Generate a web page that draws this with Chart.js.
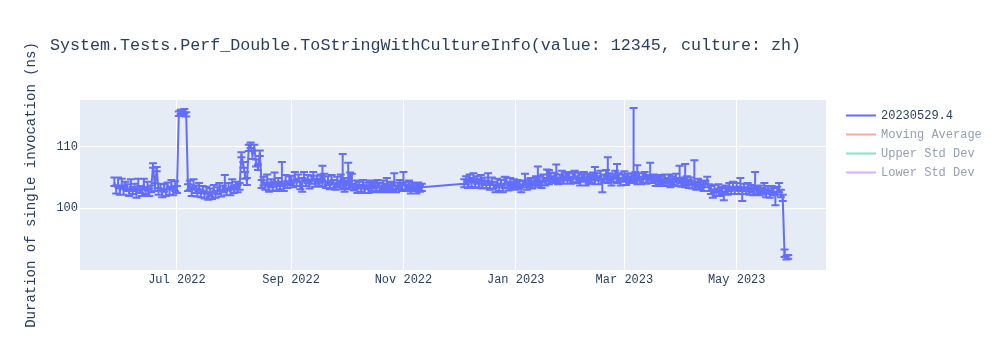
<!DOCTYPE html>
<html>
<head>
<meta charset="utf-8">
<title>Perf_Double.ToStringWithCultureInfo</title>
<script src="https://cdn.jsdelivr.net/npm/chart.js@4.4.1/dist/chart.umd.min.js"></script>
<style>
  html, body { margin: 0; padding: 0; background: #fff; }
  #chartBox { width: 1000px; height: 350px; }
</style>
</head>
<body>
<div id="chartBox"><canvas id="perfChart" width="1000" height="350"></canvas></div>
<script>
// Runs (ns), one run per day starting at each segment's first date
const runStartA = "2022-05-28";
const durationsA = [
  104.2, 103.1, 104.0, 102.8, 103.9, 103.0, 103.6,
  103.4, 102.5, 103.8, 102.9, 103.3, 102.4, 103.7, 103.0, 102.6, 103.9, 102.8, 103.5, 102.7,
  103.1, 107.0, 103.4, 106.4,
  102.8, 103.4, 102.5, 103.2, 102.6, 103.6, 102.9, 103.8, 102.7, 103.3,
  103.0, 115.3, 115.7, 115.4, 115.8, 115.2, 103.3,
  103.6, 102.7, 103.9, 103.1, 102.6, 103.4, 102.4, 103.0,
  102.2, 102.9, 101.9, 102.6, 102.1, 103.1, 102.3,
  102.8, 103.4, 102.5, 103.1, 103.5, 102.7, 103.4, 102.8, 103.9, 103.1, 103.6, 103.2,
  103.5, 108.7, 107.0, 105.3, 104.4, 109.8, 110.2, 108.6, 109.9, 107.3, 106.6, 108.9, 103.9,
  104.3, 103.5, 104.6, 103.2, 104.0, 103.6, 104.8, 103.4, 104.1, 103.7, 104.2, 103.3, 104.5, 103.8, 104.4,
  104.6, 103.9, 105.1, 104.2, 104.8, 103.8, 104.3, 105.0, 104.1, 104.7, 103.9, 104.5, 105.2, 104.0, 104.6,
  104.2, 104.8, 104.1, 104.9, 103.8, 104.4, 103.6, 104.7, 104.0, 103.5, 104.3, 103.9, 104.6, 103.7, 104.2,
  103.9, 104.4, 103.6, 104.1, 103.4, 103.8, 103.2, 103.7, 103.3, 103.9, 103.1, 103.6, 103.2, 103.8, 103.4,
  103.7, 103.2, 103.9, 103.5, 103.1, 103.8, 103.4, 104.0, 103.3, 103.7, 103.5, 104.1, 103.2, 103.6, 103.9,
  103.4, 104.2, 103.6, 103.3, 103.8, 103.1, 103.6, 103.4, 102.9, 103.5, 103.2, 103.4
];
const errUpA = [
  0.8, 0.6, 1.0, 0.5, 0.9, 0.6, 0.7,
  0.5, 0.6, 0.9, 0.5, 0.7, 0.5, 1.1, 0.6, 0.5, 0.9, 0.6, 0.8, 0.5,
  0.6, 0.3, 0.7, 0.3,
  0.5, 0.6, 0.5, 0.7, 0.5, 0.6, 0.6, 0.8, 0.5, 1.1,
  0.6, 0.4, 0.3, 0.5, 0.3, 0.4, 0.6,
  0.9, 0.6, 0.8, 0.6, 0.5, 0.7, 0.5, 0.6,
  0.5, 0.6, 0.5, 0.6, 0.5, 0.7, 0.5,
  0.6, 0.7, 0.5, 0.6, 1.9, 0.5, 0.7, 0.5, 0.8, 0.6, 0.7, 0.6,
  0.6, 0.4, 0.5, 0.6, 0.5, 0.5, 0.5, 0.7, 0.4, 0.6, 0.5, 0.5, 0.7,
  0.8, 0.6, 0.9, 0.5, 0.7, 0.6, 1.0, 0.5, 0.8, 0.6, 3.3, 0.6, 0.9, 0.6, 0.8,
  0.7, 0.6, 0.8, 0.6, 0.7, 0.5, 0.6, 0.9, 0.6, 0.7, 0.5, 0.8, 0.7, 0.6, 0.7,
  0.6, 0.7, 2.8, 0.7, 0.6, 0.8, 0.5, 0.7, 0.6, 0.5, 0.8, 0.6, 0.9, 5.1, 0.7,
  0.6, 3.0, 2.2, 1.5, 0.6, 0.7, 0.5, 0.6, 0.5, 0.7, 0.5, 0.6, 0.5, 0.7, 0.6,
  0.6, 0.5, 0.7, 0.6, 0.5, 0.7, 0.6, 0.9, 0.5, 0.6, 0.7, 1.6, 0.5, 0.6, 0.7,
  0.5, 1.7, 0.6, 0.5, 0.7, 0.5, 0.6, 0.5, 0.6, 0.7, 0.5, 0.6
];
const errDownA = [
  0.6, 0.7, 0.5, 0.6, 0.6, 0.8, 0.5,
  0.6, 0.5, 0.7, 0.6, 0.5, 0.7, 0.6, 0.5, 0.6, 0.7, 0.5, 0.6, 0.7,
  0.5, 0.4, 0.6, 0.4,
  0.6, 0.5, 0.7, 0.5, 0.6, 0.5, 0.7, 0.5, 0.6, 0.5,
  0.5, 0.3, 0.4, 0.3, 0.4, 0.3, 0.5,
  0.6, 0.7, 0.5, 0.6, 0.7, 0.5, 0.6, 0.5,
  0.6, 0.5, 0.5, 0.7, 0.6, 0.5, 0.6,
  0.5, 0.6, 0.6, 0.5, 0.6, 0.6, 0.5, 0.7, 0.5, 0.6, 0.5, 0.6,
  0.5, 0.4, 0.4, 0.5, 0.6, 0.5, 0.4, 0.6, 0.5, 0.5, 0.4, 0.4, 0.6,
  0.6, 0.5, 0.7, 0.5, 0.6, 0.7, 0.5, 0.6, 0.5, 0.6, 0.6, 0.5, 0.7, 0.5, 0.6,
  0.6, 0.5, 0.7, 0.6, 0.5, 0.7, 1.6, 0.6, 0.5, 0.6, 0.7, 0.5, 0.6, 0.5, 0.6,
  0.6, 0.5, 0.6, 0.7, 0.5, 0.6, 0.5, 0.6, 0.7, 0.5, 0.6, 0.5, 0.6, 0.6, 1.5,
  0.7, 0.6, 0.5, 0.6, 0.5, 0.6, 0.7, 0.5, 0.6, 0.5, 0.6, 0.5, 0.7, 0.5, 0.6,
  0.5, 0.6, 0.5, 0.7, 0.5, 0.6, 0.5, 0.6, 0.7, 0.5, 0.6, 0.5, 0.6, 0.5, 0.7,
  0.6, 0.5, 0.6, 0.5, 0.6, 0.7, 0.5, 0.6, 0.5, 0.6, 0.5, 0.6
];

const runStartB = "2022-12-04";
const durationsB = [
  104.0, 104.6, 103.8, 104.9, 104.2, 104.7, 103.9, 104.5, 104.1, 104.8, 103.7, 104.4, 104.0, 104.6,
  103.6, 104.3, 103.8, 103.2, 104.1, 103.5, 104.0, 103.3, 103.9, 104.4, 103.6, 104.2, 103.7, 104.1,
  103.5, 104.1, 103.7, 103.3, 104.0, 104.3, 103.6, 103.9, 104.4, 103.8, 104.2, 104.6, 104.0, 104.5,
  103.9, 104.7, 104.3, 104.9,
  104.5, 105.1, 104.6, 104.9, 105.2, 104.4, 104.8, 105.3, 104.6, 105.0, 104.7, 105.2, 104.5, 104.9,
  105.4, 104.6, 105.0, 104.3, 104.8, 105.1, 104.4, 104.9, 104.6,
  104.7, 105.2, 104.5, 105.0, 104.6, 105.3, 104.2, 104.8, 105.4, 104.6, 105.1, 104.4, 104.9, 105.3,
  104.7, 105.0, 104.3, 104.8, 105.2, 104.5, 104.9, 104.6, 105.0,
  104.8, 105.2, 104.6, 105.1, 104.4, 104.9, 105.3, 104.5, 104.8, 105.2, 104.6, 104.9, 104.3, 104.8, 104.5,
  104.6, 104.1, 104.8, 104.3, 104.7, 104.0, 104.5, 104.2, 104.9, 104.3, 104.6, 104.1, 104.4, 103.9,
  104.5, 104.0, 104.3, 103.8, 104.2, 103.7, 104.1, 103.6, 104.0, 103.5, 103.9, 104.5, 103.4,
  102.9, 102.4, 103.1, 102.6, 103.3, 102.5, 102.9, 102.2, 103.0, 102.7, 103.4,
  102.9, 103.6, 103.0, 103.5, 102.8, 103.4, 102.6, 103.3, 102.9, 103.5, 102.7, 103.2, 102.8, 103.4,
  103.0, 102.6, 103.1,
  102.7, 103.2, 102.5, 102.9, 102.3, 103.0, 102.6, 102.1, 102.8, 103.1, 102.4, 101.7, 92.4, 92.0, 92.1
];
const errUpB = [
  0.7, 0.6, 0.8, 0.6, 0.7, 1.0, 0.5, 0.7, 0.6, 0.6, 0.7, 0.6, 0.5, 1.1,
  0.6, 0.7, 0.5, 0.6, 0.7, 0.5, 0.6, 0.7, 1.2, 0.6, 0.5, 0.7, 0.6, 0.6,
  0.6, 0.5, 0.7, 0.6, 0.5, 1.3, 0.6, 0.7, 0.5, 0.6, 0.7, 0.6, 2.8, 0.7,
  0.6, 0.8, 0.6, 1.4,
  1.7, 0.7, 0.6, 0.8, 1.9, 0.6, 0.7, 0.8, 0.6, 0.7, 1.2, 0.7, 0.6, 0.8,
  0.7, 0.6, 0.8, 0.6, 0.7, 0.8, 0.6, 0.7, 0.6,
  0.7, 0.6, 2.2, 0.7, 0.6, 0.8, 0.6, 0.7, 0.8, 3.7, 0.6, 0.7, 0.6, 0.8,
  2.5, 0.7, 0.6, 0.7, 0.8, 0.6, 0.7, 0.6, 0.7,
  11.5, 0.7, 2.4, 0.6, 0.7, 0.8, 0.6, 0.7, 0.6, 2.2, 0.7, 0.6, 0.7, 0.6, 0.7,
  0.7, 0.6, 0.7, 0.6, 0.8, 0.6, 0.7, 0.6, 0.7, 0.6, 2.3, 0.7, 0.6, 3.3,
  0.7, 0.6, 0.7, 0.6, 3.6, 0.6, 0.7, 0.6, 0.5, 0.7, 0.6, 0.6, 0.5,
  0.7, 0.6, 0.7, 0.5, 0.6, 0.7, 0.6, 0.5, 0.7, 0.6, 0.7,
  0.6, 0.7, 0.5, 0.6, 0.7, 1.5, 0.6, 0.7, 0.5, 0.6, 0.7, 0.6, 0.5, 2.5,
  0.6, 0.7, 0.6,
  0.6, 0.9, 0.6, 0.7, 0.5, 0.6, 0.7, 0.6, 0.7, 1.0, 0.6, 0.5, 0.9, 0.3, 0.3
];
const errDownB = [
  0.6, 0.7, 0.5, 0.6, 0.7, 0.5, 0.6, 0.5, 0.7, 0.6, 0.5, 0.6, 0.7, 0.5,
  0.6, 0.5, 0.6, 0.6, 0.5, 0.7, 0.5, 0.7, 0.6, 0.5, 0.7, 0.6, 0.5, 0.6,
  0.5, 0.6, 0.5, 0.7, 0.6, 0.5, 0.6, 0.5, 0.7, 0.6, 0.5, 0.6, 0.5, 0.7,
  0.6, 0.5, 0.6, 0.5,
  0.6, 0.7, 0.5, 0.6, 0.7, 0.5, 0.6, 0.7, 0.6, 0.5, 0.7, 0.6, 0.5, 0.7,
  0.6, 0.5, 0.7, 0.6, 0.5, 0.6, 0.7, 0.5, 0.6,
  0.6, 0.7, 0.6, 0.5, 0.7, 0.6, 1.6, 0.6, 0.7, 0.5, 0.6, 0.7, 0.6, 0.5,
  0.6, 0.7, 0.6, 0.5, 0.6, 0.7, 0.6, 0.5, 0.6,
  0.6, 0.5, 0.7, 0.6, 0.5, 0.7, 0.6, 0.5, 0.7, 0.6, 0.5, 0.6, 0.7, 0.5, 0.6,
  0.6, 0.5, 0.7, 0.6, 0.5, 0.6, 0.7, 0.5, 0.6, 0.7, 0.5, 0.6, 0.7, 0.5,
  0.6, 0.7, 0.5, 0.6, 0.5, 0.7, 0.6, 0.5, 0.6, 0.7, 0.5, 0.6, 0.6,
  0.6, 0.7, 0.5, 0.6, 0.7, 0.5, 0.6, 0.9, 0.6, 0.5, 0.6,
  0.6, 0.5, 0.7, 0.6, 0.5, 0.6, 1.4, 0.5, 0.6, 0.7, 0.5, 0.6, 0.7, 0.5,
  0.6, 0.5, 0.6,
  0.5, 0.6, 0.7, 0.5, 0.6, 0.7, 0.5, 1.6, 0.6, 0.5, 0.6, 0.5, 0.3, 0.3, 0.3
];

const seriesLabels = ["20230529.4", "Moving Average", "Upper Std Dev", "Lower Std Dev"];
const seriesColors = ["#636efa", "#EF553B", "#00cc96", "#ab63fa"];
const seriesHidden = [false, true, true, true];

const xTickDates = ["2022-07-01", "2022-09-01", "2022-11-01", "2023-01-01", "2023-03-01", "2023-05-01"];
const xTickLabels = ["Jul 2022", "Sep 2022", "Nov 2022", "Jan 2023", "Mar 2023", "May 2023"];
const yTickValues = [100, 110];

const chartTitle = "System.Tests.Perf_Double.ToStringWithCultureInfo(value: 12345, culture: zh)";
const yAxisTitle = "Duration of single invocation (ns)";

const DAY = 86400000;
const MONO = '"Liberation Mono", "Courier New", monospace';
const TEXT_COLOR = "#2a3f5f";

function dayMs(str) {
  return Date.parse(str + "T00:00:00Z");
}

// one point per run, error extents kept on the point
function toPoints(start, values, up, down) {
  const t0 = dayMs(start);
  return values.map((v, i) => ({ x: t0 + i * DAY, y: v, up: up[i], down: down[i] }));
}

// 50% toward white, like a legendonly trace
function faded(hex) {
  const n = parseInt(hex.slice(1), 16);
  const r = (n >> 16) & 255, g = (n >> 8) & 255, b = n & 255;
  const mix = c => Math.round((c + 255) / 2);
  return `rgb(${mix(r)}, ${mix(g)}, ${mix(b)})`;
}

const runPoints = toPoints(runStartA, durationsA, errUpA, errDownA)
  .concat(toPoints(runStartB, durationsB, errUpB, errDownB));

const plotBackground = {
  id: "plotBackground",
  beforeDraw(chart) {
    const { ctx, chartArea: a } = chart;
    ctx.save();
    ctx.fillStyle = "#e5ecf6";
    ctx.fillRect(a.left, a.top, a.right - a.left, a.bottom - a.top);
    ctx.restore();
  }
};

const errorBars = {
  id: "errorBars",
  beforeDatasetsDraw(chart) {
    const { ctx, chartArea: a, scales } = chart;
    const ds = chart.data.datasets[0];
    ctx.save();
    ctx.beginPath();
    ctx.rect(a.left, a.top, a.right - a.left, a.bottom - a.top);
    ctx.clip();
    ctx.strokeStyle = ds.borderColor;
    ctx.lineWidth = 2;
    ctx.beginPath();
    ds.data.forEach(p => {
      const x = scales.x.getPixelForValue(p.x);
      const yTop = scales.y.getPixelForValue(p.y + p.up);
      const yBot = scales.y.getPixelForValue(p.y - p.down);
      ctx.moveTo(x, yTop);
      ctx.lineTo(x, yBot);
      ctx.moveTo(x - 4, yTop);
      ctx.lineTo(x + 4, yTop);
      ctx.moveTo(x - 4, yBot);
      ctx.lineTo(x + 4, yBot);
    });
    ctx.stroke();
    ctx.restore();
  }
};

// title, rotated y title and the legend on the right
const textLayer = {
  id: "textLayer",
  afterDraw(chart) {
    const { ctx, chartArea: a } = chart;
    ctx.save();
    ctx.fillStyle = TEXT_COLOR;
    ctx.font = `16.7px ${MONO}`;
    ctx.textAlign = "left";
    ctx.textBaseline = "middle";
    ctx.fillText(chartTitle, 50, 46);

    ctx.save();
    ctx.translate(31, (a.top + a.bottom) / 2);
    ctx.rotate(-Math.PI / 2);
    ctx.font = `14px ${MONO}`;
    ctx.textAlign = "center";
    ctx.fillText(yAxisTitle, 0, 0);
    ctx.restore();

    ctx.font = `12px ${MONO}`;
    ctx.textAlign = "left";
    chart.data.datasets.forEach((ds, i) => {
      const y = a.top + 15.5 + i * 19;
      const x0 = a.right + 20;
      ctx.strokeStyle = ds.hidden ? faded(ds.borderColor) : ds.borderColor;
      ctx.lineWidth = 2;
      ctx.beginPath();
      ctx.moveTo(x0, y);
      ctx.lineTo(x0 + 30, y);
      ctx.stroke();
      ctx.fillStyle = ds.hidden ? faded(TEXT_COLOR) : TEXT_COLOR;
      ctx.fillText(ds.label, x0 + 35, y);
    });
    ctx.restore();
  }
};

const datasets = seriesLabels.map((label, i) => ({
  label: label,
  data: i === 0 ? runPoints : [],
  hidden: seriesHidden[i],
  borderColor: seriesColors[i],
  backgroundColor: seriesColors[i],
  borderWidth: 2,
  borderJoinStyle: "round",
  pointRadius: 0,
  tension: 0
}));

new Chart(document.getElementById("perfChart"), {
  type: "line",
  data: { datasets: datasets },
  options: {
    responsive: false,
    animation: false,
    layout: { padding: { top: 100, right: 174, bottom: 0, left: 0 } },
    plugins: {
      legend: { display: false },
      title: { display: false },
      tooltip: { enabled: false }
    },
    scales: {
      x: {
        type: "linear",
        min: Date.UTC(2022, 4, 9, 8),
        max: Date.UTC(2023, 5, 18, 12),
        afterBuildTicks: axis => { axis.ticks = xTickDates.map(d => ({ value: dayMs(d) })); },
        afterFit: axis => { axis.height = 80; },
        grid: { color: "#ffffff", lineWidth: 1, drawTicks: false },
        border: { display: false },
        ticks: {
          padding: 3,
          maxRotation: 0,
          autoSkip: false,
          color: TEXT_COLOR,
          font: { family: MONO, size: 12 },
          callback: value => xTickLabels[xTickDates.findIndex(d => dayMs(d) === value)]
        }
      },
      y: {
        min: 89.98,
        max: 117.58,
        afterBuildTicks: axis => { axis.ticks = yTickValues.map(v => ({ value: v })); },
        afterFit: axis => { axis.width = 80; },
        grid: { color: "#ffffff", lineWidth: 1, drawTicks: false },
        border: { display: false },
        ticks: {
          padding: 2,
          color: TEXT_COLOR,
          font: { family: MONO, size: 12 }
        }
      }
    }
  },
  plugins: [plotBackground, errorBars, textLayer]
});
</script>
</body>
</html>
